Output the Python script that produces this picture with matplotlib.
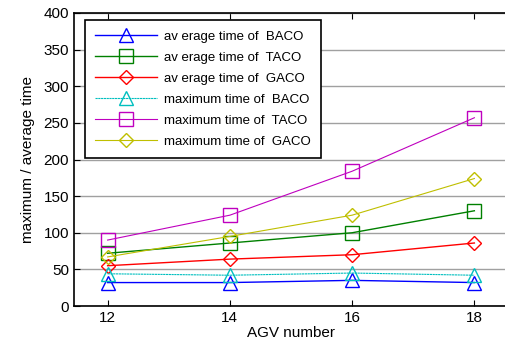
import numpy as np
import matplotlib.pyplot as plt

plt.rcParams['font.family'] = ['Liberation Sans', 'DejaVu Sans']

agv = [12, 14, 16, 18]
avg_baco = [32, 32, 35, 32]
avg_taco = [72, 86, 100, 130]
avg_gaco = [55, 64, 70, 86]
max_baco = [44, 42, 45, 42]
max_taco = [90, 124, 184, 257]
max_gaco = [67, 95, 124, 174]


def main():
	fig = plt.figure(figsize=(5.05, 3.52), dpi=100)
	ax = fig.add_axes([74 / 505, 46 / 352, 434 / 505, 293 / 352])

	# average series: solid, max series: thin dotted-ish
	ms = 9.5
	ax.plot(agv, avg_baco, color='#0000ff', lw=1.0, marker='^', ms=ms, mfc='none', label='av erage time of  BACO')
	ax.plot(agv, avg_taco, color='#008000', lw=1.0, marker='s', ms=ms, mfc='none', label='av erage time of  TACO')
	ax.plot(agv, avg_gaco, color='#ff0000', lw=1.0, marker='D', ms=ms * 0.8, mfc='none', label='av erage time of  GACO')
	ax.plot(agv, max_baco, color='#00bfbf', lw=0.8, ls=(0, (2, 0.5)), marker='^', ms=ms, mfc='none', label='maximum time of  BACO')
	ax.plot(agv, max_taco, color='#bf00bf', lw=0.8, marker='s', ms=ms, mfc='none', label='maximum time of  TACO')
	ax.plot(agv, max_gaco, color='#bfbf00', lw=0.8, marker='D', ms=ms * 0.8, mfc='none', label='maximum time of  GACO')

	ax.set_xlim(11.45, 18.55)
	ax.set_ylim(0, 400)
	ax.set_xticks(agv)
	ax.set_yticks(np.arange(0, 401, 50))
	ax.yaxis.grid(True, color='#a0a0a0', lw=1.0)
	ax.set_axisbelow(True)
	ax.tick_params(direction='in', labelsize=11, top=True, length=4)
	for s in ax.spines.values():
		s.set_linewidth(1.2)

	ax.set_xlabel('AGV number', fontsize=11, labelpad=1)
	ax.set_ylabel('maximum / average time', fontsize=11, labelpad=6)

	leg = ax.legend(loc='upper left', bbox_to_anchor=(0.025, 0.976), fontsize=9.5,
		fancybox=False, framealpha=1, edgecolor='black', handlelength=4.7,
		handletextpad=0.5, labelspacing=0.66, borderpad=0.8, borderaxespad=0)
	leg.get_frame().set_linewidth(1.2)

	fig.savefig('out.png', dpi=100)

if __name__ == "__main__":
	main()
